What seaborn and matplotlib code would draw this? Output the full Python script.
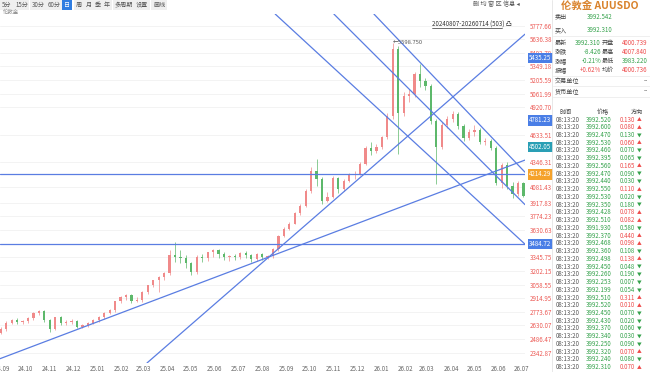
import numpy as np
import pandas as pd
import seaborn as sns
import matplotlib.pyplot as plt
import matplotlib.dates as mdates
import matplotlib.transforms as mtransforms

sns.set_theme(style='white')
plt.rcParams['font.family'] = ['Noto Sans CJK SC', 'DejaVu Sans']
plt.rcParams['axes.unicode_minus'] = False

# weekly candles
week_start = '2024-08-30'
opens = [2549, 2590, 2653, 2685, 2664, 2671, 2705, 2758, 2779, 2685,
         2590, 2716, 2653, 2664, 2674, 2611, 2632, 2653, 2685, 2716,
         2758, 2789, 2883, 2925, 2946, 2883, 2894, 2977, 3050, 3103,
         3134, 3176, 3370, 3352, 3332, 3280, 3186, 3343, 3332, 3395,
         3416, 3374, 3343, 3353, 3347, 3385, 3364, 3322, 3374, 3343,
         3353, 3427, 3573, 3646, 3698, 3813, 3886, 4043, 4252, 4168,
         3939, 3980, 4179, 4064, 4148, 4210, 4221, 4325, 4492, 4461,
         4503, 4607, 4827, 5527, 4858, 5040, 5058, 5266, 5193, 5140,
         4775, 4503, 4733, 4795, 4848, 4722, 4597, 4660, 4681, 4555,
         4566, 4492, 4127, 4315, 4095, 4012, 4127]
highs = [2610, 2672, 2700, 2705, 2690, 2722, 2772, 2790, 2795, 2700,
         2722, 2726, 2681, 2700, 2690, 2645, 2668, 2700, 2730, 2772,
         2800, 2890, 2942, 2955, 2955, 2925, 2990, 3058, 3110, 3150,
         3190, 3420, 3500, 3420, 3365, 3300, 3365, 3380, 3405, 3435,
         3430, 3395, 3370, 3375, 3400, 3410, 3380, 3385, 3390, 3370,
         3440, 3580, 3660, 3715, 3822, 3900, 4060, 4290, 4378, 4190,
         4030, 4200, 4190, 4165, 4230, 4255, 4340, 4510, 4550, 4530,
         4620, 4860, 5599, 5560, 5080, 5110, 5290, 5370, 5230, 5160,
         4800, 4760, 4830, 4880, 4870, 4740, 4690, 4730, 4700, 4600,
         4590, 4510, 4330, 4340, 4130, 4150, 4140]
lows = [2535, 2575, 2640, 2645, 2648, 2655, 2690, 2740, 2660, 2560,
        2580, 2630, 2635, 2648, 2598, 2600, 2615, 2640, 2670, 2700,
        2745, 2775, 2865, 2900, 2860, 2870, 2880, 2960, 3030, 2977,
        3110, 3160, 3300, 3280, 3230, 3155, 3170, 3300, 3310, 3350,
        3340, 3320, 3310, 3320, 3330, 3340, 3300, 3305, 3320, 3325,
        3340, 3410, 3560, 3630, 3690, 3790, 3870, 4020, 4090, 3907,
        3930, 3965, 4020, 4045, 4130, 4170, 4205, 4310, 4420, 4440,
        4480, 4590, 4800, 4430, 4830, 4980, 5030, 5130, 5100, 4740,
        4116, 4480, 4700, 4770, 4690, 4570, 4580, 4620, 4530, 4520,
        4470, 4100, 4075, 4060, 3970, 3990, 3975]
closes = [2590, 2653, 2685, 2664, 2671, 2705, 2758, 2779, 2685, 2590,
          2716, 2653, 2664, 2674, 2611, 2632, 2653, 2685, 2716, 2758,
          2789, 2883, 2925, 2946, 2883, 2894, 2977, 3050, 3103, 3134,
          3176, 3370, 3352, 3332, 3280, 3186, 3343, 3332, 3395, 3416,
          3374, 3343, 3353, 3347, 3385, 3364, 3322, 3374, 3343, 3353,
          3427, 3573, 3646, 3698, 3813, 3886, 4043, 4252, 4168, 3939,
          3980, 4179, 4064, 4148, 4210, 4221, 4325, 4492, 4461, 4503,
          4607, 4827, 5527, 4858, 5040, 5058, 5266, 5193, 5140, 4775,
          4503, 4733, 4795, 4848, 4722, 4597, 4660, 4681, 4555, 4566,
          4492, 4127, 4315, 4095, 4012, 4127, 3992]

# drawn lines: two anchor points each (date, price)
trend_lines = [
    (('2024-08-29', 2280), ('2026-07-01', 4353)),
    (('2025-03-06', 2235), ('2025-12-31', 4366)),
    (('2025-08-15', 5920), ('2026-07-02', 3505)),
    (('2025-10-31', 5909), ('2026-07-08', 3873)),
    (('2025-12-24', 5888), ('2026-06-20', 4366)),
]
h_lines = [4214.29, 3484.72]

price_ticks = [2342.87, 2486.47, 2630.07, 2773.67, 2914.95, 3058.55, 3202.15,
               3345.75, 3630.63, 3774.23, 3917.83, 4081.43, 4346.31, 4633.51,
               4920.70, 5061.99, 5205.59, 5349.18, 5492.78, 5636.38, 5777.66]
box_prices = [5435.25, 4781.23, 4502.05, 4214.29, 3484.72]
box_colors = ['#4a7ee6', '#4a7ee6', '#2a9fb5', '#f5a22b', '#4a7ee6']

peak_price = 5598.75

# quote panel
quote_rows = [('卖出', '3992.542'), ('买入', '3992.310')]
stat_left = [('最新', '3992.310', 'g'), ('涨跌', '-8.426', 'g'),
             ('涨幅', '-0.21%', 'g'), ('振幅', '+0.62%', 'r')]
stat_right = [('开盘', '4000.739', 'r'), ('最高', '4007.840', 'r'),
              ('最低', '3983.220', 'g'), ('均价', '4000.736', 'r')]
tick_prices = ['3992.520', '3992.600', '3992.470', '3992.530', '3992.460', '3992.395',
               '3992.560', '3992.470', '3992.440', '3992.550', '3992.530', '3992.350',
               '3992.428', '3992.510', '3991.930', '3992.370', '3992.468', '3992.360',
               '3992.498', '3992.450', '3992.260', '3992.253', '3992.199', '3992.510',
               '3992.520', '3992.450', '3992.430', '3992.370', '3992.340', '3992.250',
               '3992.320', '3992.240', '3992.310']
tick_changes = ['0.130', '0.080', '0.130', '0.060', '0.070', '0.065', '0.165', '0.090',
                '0.030', '0.110', '0.020', '0.180', '0.078', '0.082', '0.580', '0.440',
                '0.098', '0.108', '0.138', '0.048', '0.190', '0.007', '0.054', '0.311',
                '0.010', '0.070', '0.020', '0.060', '0.030', '0.090', '0.070', '0.080',
                '0.070']
tick_up = [1, 1, 0, 1, 0, 0, 1, 0, 0, 1, 0, 0, 1, 1, 0, 1, 1, 0, 1, 0, 0, 0, 0, 1,
           1, 0, 0, 0, 0, 0, 1, 0, 1]

toolbar = ['5分', '15分', '30分', '60分', '日', '周', '月', '季', '年', '多周期', '设置', '画线']
toolbar_x = [2, 15, 32, 48, 64, 76, 86, 95, 104, 115, 136, 153]

RED, GREEN, LINE = '#f08a8a', '#5db86b', '#5a7de2'
TXT_RED, TXT_GREEN = '#ee4a4a', '#35a24c'

W, H = 650, 372
fig = plt.figure(figsize=(W / 100, H / 100), dpi=100)
ax = fig.add_axes([0, (H - 363) / H, 525 / W, (363 - 14) / H])

df = pd.DataFrame({'date': pd.date_range(week_start, periods=len(closes), freq='7D'),
                   'open': opens, 'high': highs, 'low': lows, 'close': closes})
x = mdates.date2num(df['date'])
col = np.where(df['close'] >= df['open'], RED, GREEN)
ax.vlines(x, df['low'], df['high'], colors=col, lw=0.5, zorder=2)
body = (df['close'] - df['open']).where((df['close'] - df['open']).abs() > 4, 4)
ax.bar(x, body, bottom=df['open'], width=2.8, color=col, lw=0, zorder=3)

for p1, p2 in trend_lines:
    ax.axline((mdates.datestr2num(p1[0]), p1[1]), (mdates.datestr2num(p2[0]), p2[1]),
              color=LINE, lw=0.9, zorder=4)
for h in h_lines:
    ax.axhline(h, color=LINE, lw=0.9, zorder=4)

t0 = pd.Timestamp('2024-08-29')
ax.set_xlim(mdates.date2num(t0), mdates.date2num(t0 + pd.Timedelta(days=675)))
ax.set_ylim(2234.7, 5899)

ax.xaxis.set_major_locator(mdates.MonthLocator())
ax.xaxis.set_major_formatter(mdates.DateFormatter('%y.%m'))
ax.yaxis.tick_right()
ax.set_yticks(price_ticks)
ax.set_yticklabels([f'{v:.2f}' for v in price_ticks])
ax.tick_params(axis='y', length=0, pad=3.5, labelsize=4.4, labelcolor='#ec5a55')
ax.tick_params(axis='x', length=0, pad=1.2, labelsize=4.4, labelcolor='#666666')
for lab in ax.get_yticklabels():
    lab.set_horizontalalignment('left')
ax.yaxis.grid(True, color='#f1f1f1', lw=0.6)
ax.set_axisbelow(True)
for s in ax.spines.values():
    s.set_visible(False)

trans = mtransforms.blended_transform_factory(ax.transAxes, ax.transData)
for v, c in zip(box_prices, box_colors):
    ax.text(1.008, v, f'{v:.2f}', transform=trans, ha='left', va='center',
            fontsize=4.4, color='white', clip_on=False, zorder=6,
            bbox=dict(boxstyle='square,pad=0.2', fc=c, ec='none'))

peak_x = x[int(np.argmax(highs))]
ax.text(peak_x, peak_price, '←5598.750', fontsize=4.2, color='#555555',
        ha='left', va='center', zorder=6)

# overlay in pixel coordinates for the window chrome and quote panel
ov = fig.add_axes([0, 0, 1, 1], zorder=10)
ov.set_xlim(0, W)
ov.set_ylim(H, 0)
ov.axis('off')
ov.patch.set_visible(False)

fs = 4.4
for lab, lx in zip(toolbar, toolbar_x):
    sel = lab == '日'
    ov.text(lx, 4.6, lab, fontsize=fs, ha='left', va='center',
            color='white' if sel else '#555555',
            bbox=dict(boxstyle='square,pad=0.25', fc='#2f7de1' if sel else '#efefef', ec='none'))
ov.text(3, 12.3, '伦敦金', fontsize=3.9, color='#888888', ha='left', va='center')
ov.text(473, 4.6, '删 均 窗 区 信息 ◂', fontsize=fs, color='#555555', ha='left', va='center')
ov.text(432, 24.5, '20240807-20260714 (503) 凸', fontsize=fs, color='#333333',
        ha='left', va='center')
ov.plot([432, 502], [27.6, 27.6], color='#333333', lw=0.5)

ov.plot([552, 552], [0, H], color='#e4e4e4', lw=0.6)
for yy in [36, 76, 86, 97]:
    ov.plot([553, W], [yy, yy], color='#ececec', lw=0.6)

ov.text(600, 5.5, '伦敦金 AUUSDO', fontsize=7.5, fontweight='bold', color='#d9822b',
        ha='center', va='center')
for k, (lab, val) in enumerate(quote_rows):
    yy = 16.7 + 13.3 * k
    ov.text(555, yy, lab, fontsize=fs, color='#444444', va='center')
    ov.text(587, yy, val, fontsize=fs, color=TXT_GREEN, va='center')
for k, ((l1, v1, c1), (l2, v2, c2)) in enumerate(zip(stat_left, stat_right)):
    yy = 42.7 + 9.2 * k
    ov.text(555, yy, l1, fontsize=fs, color='#444444', va='center')
    ov.text(601, yy, v1, fontsize=fs, ha='right', va='center',
            color=TXT_GREEN if c1 == 'g' else TXT_RED)
    ov.text(602, yy, l2, fontsize=fs, color='#444444', va='center')
    ov.text(622, yy, v2, fontsize=fs, va='center',
            color=TXT_GREEN if c2 == 'g' else TXT_RED)
for lab, yy in [('交易单位', 81), ('货币单位', 91.5)]:
    ov.text(555, yy, lab, fontsize=fs, color='#444444', va='center')
    ov.text(648, yy, '--', fontsize=fs, color='#444444', ha='right', va='center')

for lab, cx in [('时间', 566), ('价格', 603), ('方向', 637)]:
    ov.text(cx, 112, lab, fontsize=fs, color='#444444', ha='center', va='center')
for k, (pr, ch, up) in enumerate(zip(tick_prices, tick_changes, tick_up)):
    yy = 119.5 + 7.74 * k
    c = TXT_RED if up else TXT_GREEN
    ov.text(567.5, yy, '08:13:20', fontsize=fs, color='#555555', ha='center', va='center')
    ov.text(598.7, yy, pr, fontsize=fs, color=TXT_GREEN, ha='center', va='center')
    ov.text(635, yy, ch, fontsize=fs, color=c, ha='right', va='center')
    ov.text(636.5, yy, '▲' if up else '▼', fontsize=3.4, color=c, ha='left', va='center')

fig.savefig('out.png', dpi=100)
